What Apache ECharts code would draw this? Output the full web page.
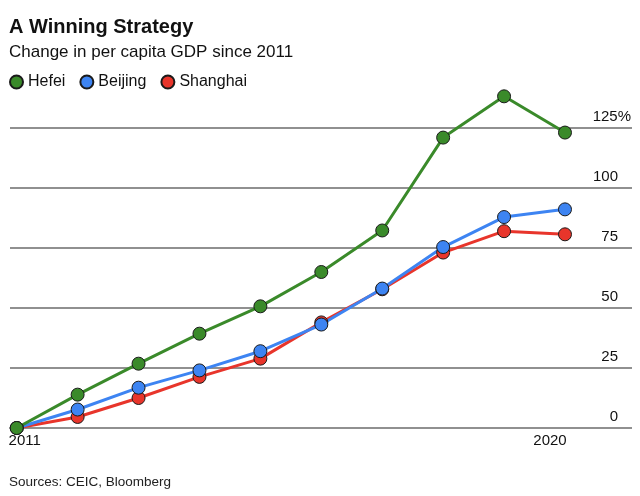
<!DOCTYPE html>
<html>
<head>
<meta charset="utf-8">
<script src="https://cdn.jsdelivr.net/npm/echarts@6/dist/echarts.min.js"></script>
<style>
html,body{margin:0;padding:0;background:#fff;}
#c{width:640px;height:496px;}
</style>
</head>
<body>
<div id="c"></div>
<script>
var years = [2011, 2012, 2013, 2014, 2015, 2016, 2017, 2018, 2019, 2020];
var hefei = [0, 13.9, 26.8, 39.3, 50.7, 65.0, 82.3, 121.0, 138.2, 123.1];
var beijing = [0, 7.7, 16.8, 24.0, 32.0, 43.1, 58.1, 75.4, 87.9, 91.1];
var shanghai = [0, 4.6, 12.5, 21.3, 28.9, 44.0, 57.8, 73.1, 82.0, 80.7];
var xTickLabels = [2011, 2020];
var yTicks = [0, 25, 50, 75, 100, 125];

function pairs(vals) { return years.map(function (y, i) { return [y, vals[i]]; }); }

var FONT = '"Liberation Sans", Arial, Helvetica, sans-serif';
var chart = echarts.init(document.getElementById('c'), null, { renderer: 'canvas' });

function mkSeries(name, color, vals) {
  return {
    name: name, type: 'line', data: pairs(vals), clip: false,
    symbol: 'circle', symbolSize: 13,
    lineStyle: { color: color, width: 3 },
    itemStyle: { color: color, borderColor: '#1a1a1a', borderWidth: 1 },
    emphasis: { disabled: true }, animation: false
  };
}

chart.setOption({
  animation: false,
  textStyle: { fontFamily: FONT },
  title: [
    { text: 'A Winning Strategy', left: 9, top: 17, padding: 0,
      textStyle: { fontFamily: FONT, fontSize: 20, fontWeight: 'bold', color: '#111' } },
    { text: 'Change in per capita GDP since 2011', left: 9, top: 44, padding: 0,
      textStyle: { fontFamily: FONT, fontSize: 17, fontWeight: 'normal', color: '#111' } }
  ],
  legend: {
    data: ['Hefei', 'Beijing', 'Shanghai'], left: 9, top: 74, padding: 0,
    icon: 'circle', itemWidth: 13, itemHeight: 13, itemGap: 14,
    textStyle: { fontFamily: FONT, fontSize: 16, color: '#111' },
    selectedMode: false
  },
  grid: { left: 10, right: 8, top: 128, bottom: 68, containLabel: false },
  xAxis: {
    type: 'value', min: 2010.89, max: 2021.1,
    splitLine: { show: false }, axisTick: { show: false },
    axisLine: { show: false },
    axisLabel: {
      customValues: xTickLabels, margin: 5,
      fontFamily: FONT, fontSize: 15, color: '#111',
      formatter: function (v) { return v === 2011 ? '{l|' + v + '}' : '{r|' + v + '}'; },
      rich: {
        l: { fontFamily: FONT, fontSize: 15, color: '#111', padding: [0, 0, 0, 16] },
        r: { fontFamily: FONT, fontSize: 15, color: '#111', padding: [0, 30, 0, 0] }
      }
    }
  },
  yAxis: {
    type: 'value', min: 0, max: 125, interval: 25, position: 'right',
    axisLine: { show: false }, axisTick: { show: false },
    splitLine: { show: true, lineStyle: { color: '#6b6b6b', width: 1.5 } },
    axisLabel: {
      inside: true, margin: 1, align: 'right', verticalAlign: 'bottom',
      fontFamily: FONT, fontSize: 15, color: '#111',
      formatter: function (v) { return v === 125 ? '{a|125%}' : '{b|' + v + '}'; },
      rich: {
        a: { fontFamily: FONT, fontSize: 15, color: '#111', padding: [0, 0, 4, 0] },
        b: { fontFamily: FONT, fontSize: 15, color: '#111', padding: [0, 13, 4, 0] }
      }
    }
  },
  graphic: [
    { type: 'text', left: 9, top: 475,
      style: { text: 'Sources: CEIC, Bloomberg', font: '13.5px ' + FONT, fill: '#222' } }
  ],
  series: [
    mkSeries('Shanghai', '#e8352b', shanghai),
    mkSeries('Beijing', '#3d84f2', beijing),
    mkSeries('Hefei', '#3a8a2a', hefei)
  ]
});
</script>
</body>
</html>
